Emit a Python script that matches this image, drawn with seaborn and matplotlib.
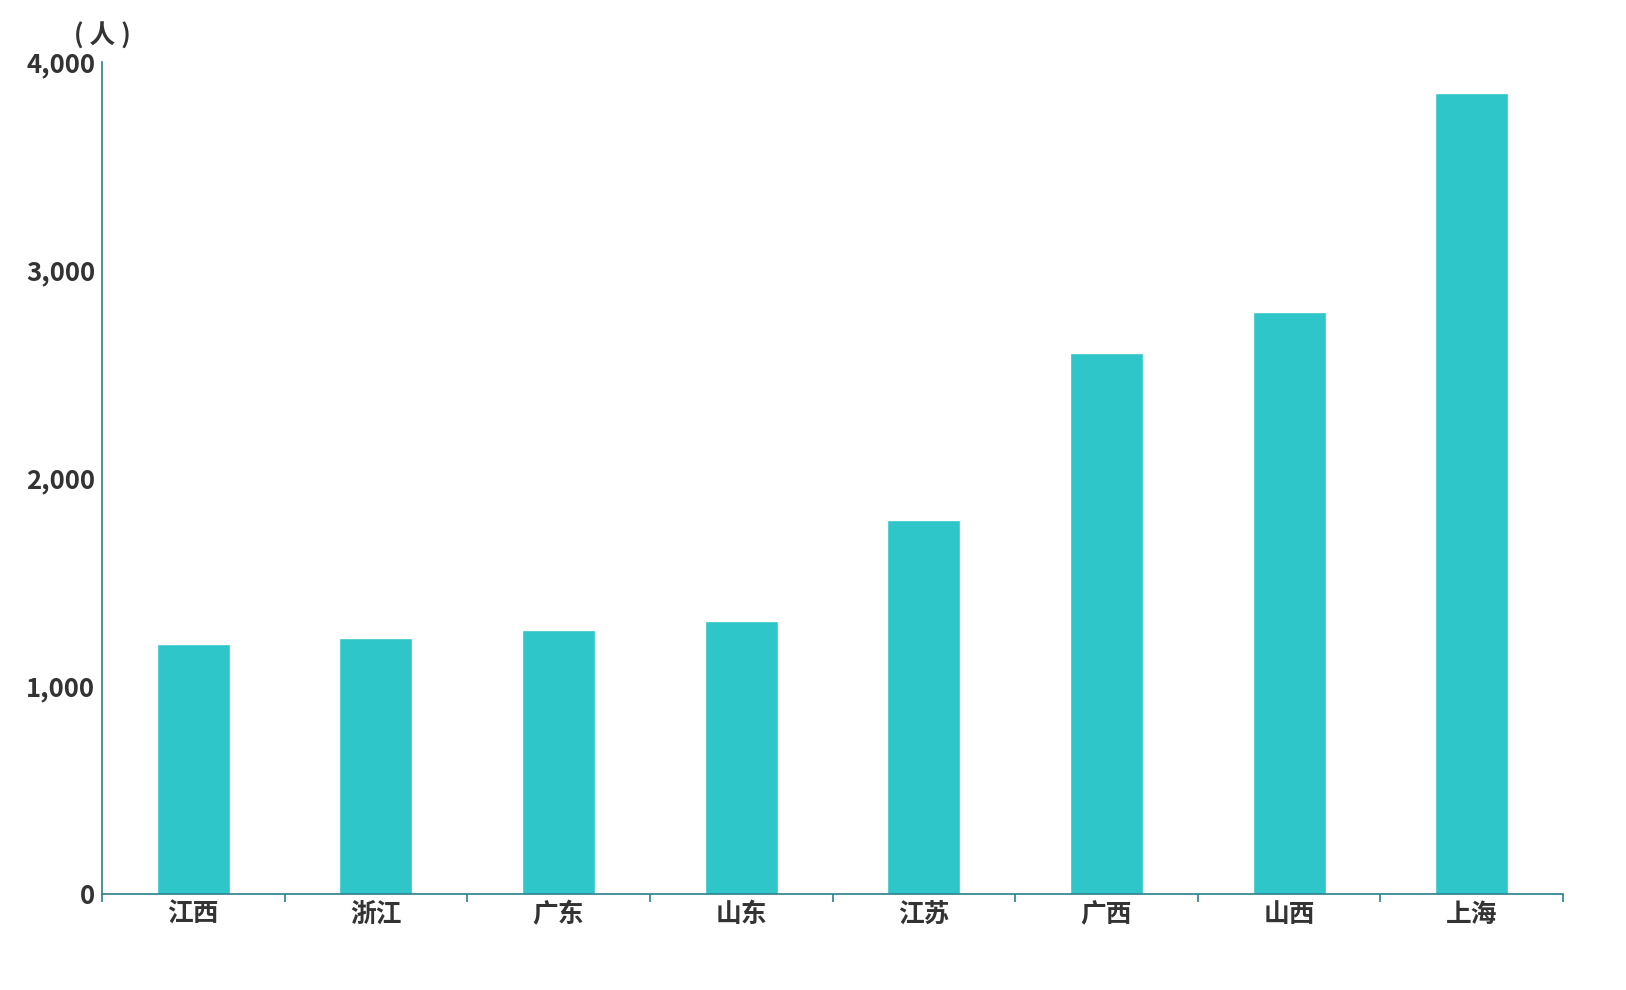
import numpy as np
import pandas as pd
import matplotlib
matplotlib.use("Agg")
import matplotlib.pyplot as plt
import matplotlib.ticker as ticker
import seaborn as sns

# Data
provinces = ["江西", "浙江", "广东", "山东", "江苏", "广西", "山西", "上海"]
counts = [1200, 1230, 1270, 1310, 1800, 2600, 2800, 3850]
y_ticks = [0, 1000, 2000, 3000, 4000]

bar_color = "#2EC6C8"
axis_color = "#2A7F8C"
text_color = "#333333"

sns.set_style("white")
plt.rcParams["font.family"] = ["Noto Sans CJK SC", "DejaVu Sans"]

df = pd.DataFrame({"province": provinces, "count": counts})

fig = plt.figure(figsize=(16.26, 9.9), dpi=100)
ax = fig.add_axes([0.0627, 0.097, 0.8986, 0.8404])

sns.barplot(data=df, x="province", y="count", color=bar_color,
            width=0.4, saturation=1, ax=ax)

ax.set_xlim(-0.5, len(provinces) - 0.5)
ax.set_ylim(0, 4000)
ax.set_yticks(y_ticks)
ax.yaxis.set_major_formatter(ticker.StrMethodFormatter("{x:,.0f}"))
ax.set_xlabel("")
ax.set_ylabel("")

# category separator ticks on the x axis
ax.set_xticks(np.arange(len(provinces) + 1) - 0.5, minor=True)
ax.tick_params(axis="x", which="minor", bottom=True, length=6, width=1.2,
               color=axis_color, direction="out")
ax.tick_params(axis="x", which="major", length=0, pad=5,
               labelsize=18.5, labelcolor=text_color)
ax.tick_params(axis="y", length=0, pad=5, labelsize=18.5, labelcolor=text_color)
for lab in ax.get_xticklabels() + ax.get_yticklabels():
    lab.set_fontweight("bold")
    if lab in ax.get_yticklabels():
        lab.set_va("center_baseline")

for side in ["top", "right"]:
    ax.spines[side].set_visible(False)
for side in ["left", "bottom"]:
    ax.spines[side].set_color(axis_color)
    ax.spines[side].set_linewidth(1.2)

fig.text(0.0627, 0.963, "( 人 )", ha="center", va="center",
         fontsize=18.5, fontweight="bold", color=text_color)

fig.savefig("out.png", dpi=100)
